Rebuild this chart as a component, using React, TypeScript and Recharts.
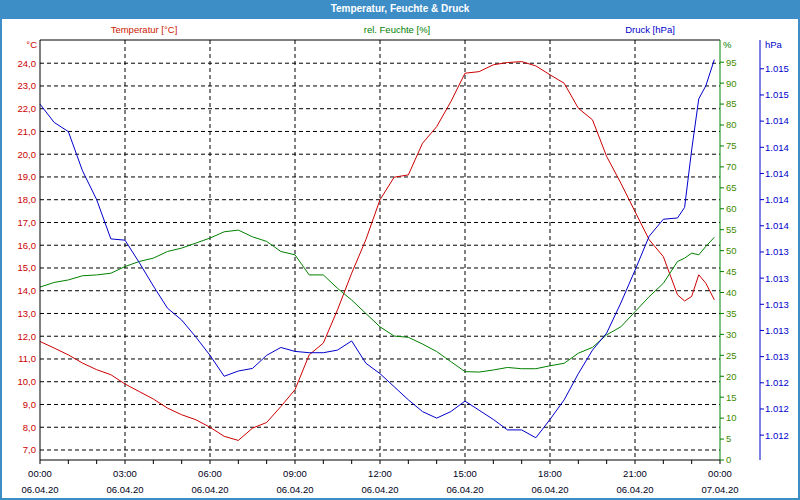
import React from 'react';
import { LineChart, Line, XAxis, YAxis, CartesianGrid, ReferenceLine } from 'recharts';

// time of day in hours (06.04.20 00:00 .. 07.04.20 00:00)
const hours = [
  0, 0.5, 1, 1.5, 2, 2.5, 3, 3.5, 4, 4.5, 5, 5.5, 6, 6.5, 7, 7.5, 8, 8.5, 9, 9.5,
  10, 10.5, 11, 11.5, 12, 12.5, 13, 13.5, 14, 14.5, 15, 15.5, 16, 16.5, 17, 17.5,
  18, 18.5, 19, 19.5, 20, 20.5, 21, 21.5, 22, 22.5, 22.75, 23, 23.25, 23.5, 23.8,
];

const temperature = [
  11.77, 11.48, 11.18, 10.82, 10.53, 10.31, 9.9, 9.57, 9.24, 8.84, 8.55, 8.33, 8.0, 7.6, 7.42, 7.96, 8.21, 8.91, 9.65, 11.18,
  11.7, 13.16, 14.77, 16.24, 18.0, 18.99, 19.09, 20.48, 21.21, 22.31, 23.56, 23.63, 23.93, 24.03, 24.07, 23.88,
  23.49, 23.12, 22.02, 21.51, 19.9, 18.73, 17.48, 16.24, 15.5, 13.82, 13.55, 13.75, 14.7, 14.33, 13.6,
];

const humidity = [
  41.3, 42.4, 43.0, 44.0, 44.2, 44.6, 46.2, 47.4, 48.2, 49.8, 50.6, 51.8, 53.0, 54.5, 54.9, 53.3, 52.2, 49.8, 49.0, 44.2,
  44.2, 41.0, 38.2, 35.0, 31.8, 29.6, 29.3, 27.7, 25.9, 23.5, 21.1, 21.0, 21.5, 22.1, 21.8, 21.8,
  22.5, 23.1, 25.5, 26.9, 29.9, 31.8, 35.4, 39.0, 42.2, 47.4, 48.2, 49.4, 49.0, 51.0, 53.2,
];

const pressure = [
  1014.53, 1014.39, 1014.32, 1014.02, 1013.8, 1013.5, 1013.49, 1013.32, 1013.14, 1012.97, 1012.88, 1012.75, 1012.61, 1012.45, 1012.49, 1012.51, 1012.61, 1012.67, 1012.64, 1012.63,
  1012.63, 1012.65, 1012.72, 1012.55, 1012.47, 1012.37, 1012.27, 1012.18, 1012.13, 1012.18, 1012.26, 1012.19, 1012.12, 1012.04, 1012.04, 1011.98,
  1012.12, 1012.27, 1012.47, 1012.65, 1012.78, 1013.01, 1013.26, 1013.52, 1013.65, 1013.66, 1013.74, 1014.18, 1014.57, 1014.67, 1014.87,
];

const hourTicks = [0, 1, 2, 3, 4, 5, 6, 7, 8, 9, 10, 11, 12, 13, 14, 15, 16, 17, 18, 19, 20, 21, 22, 23, 24];
const timeLabels = ['00:00', '03:00', '06:00', '09:00', '12:00', '15:00', '18:00', '21:00', '00:00'];
const dateLabels = ['06.04.20', '06.04.20', '06.04.20', '06.04.20', '06.04.20', '06.04.20', '06.04.20', '06.04.20', '07.04.20'];
const tempTicks = [7, 8, 9, 10, 11, 12, 13, 14, 15, 16, 17, 18, 19, 20, 21, 22, 23, 24];
const humTicks = [0, 5, 10, 15, 20, 25, 30, 35, 40, 45, 50, 55, 60, 65, 70, 75, 80, 85, 90, 95];
const pressTicks = [1012.0, 1012.2, 1012.4, 1012.6, 1012.8, 1013.0, 1013.2, 1013.4, 1013.6, 1013.8, 1014.0, 1014.2, 1014.4, 1014.6, 1014.8];

const data = hours.map((h, i) => ({
  h,
  temp: temperature[i],
  hum: humidity[i],
  press: pressure[i],
}));

const FONT = '"Liberation Sans", Arial, sans-serif';
const RED = '#cc0000';
const GREEN = '#008000';
const BLUE = '#0000cc';

function TimeTick(props: any) {
  const { x, y, payload } = props;
  const v = payload.value;
  if (v % 3 !== 0) return <g />;
  const i = v / 3;
  return (
    <g>
      <text x={x} y={y + 11} textAnchor="middle" fontSize={9.5} fontFamily={FONT} fill="#000022">{timeLabels[i]}</text>
      <text x={x} y={y + 27} textAnchor="middle" fontSize={9.5} fontFamily={FONT} fill="#000022">{dateLabels[i]}</text>
    </g>
  );
}

const label = (left: number, top: number, color: string, text: string, align: 'left' | 'center' | 'right' = 'left', width = 60) => (
  <div style={{
    position: 'absolute', left, top, width, textAlign: align, color,
    fontFamily: FONT, fontSize: 9.5, lineHeight: '12px', whiteSpace: 'nowrap',
  }}>{text}</div>
);

export default function App() {
  return (
    <div style={{ position: 'absolute', left: 0, top: 0, width: 800, height: 500, background: '#fff', overflow: 'hidden' }}>
      <LineChart width={800} height={500} data={data} margin={{ top: 40, right: 0, bottom: 0, left: 0 }}>
        <CartesianGrid yAxisId="temp" stroke="#000" strokeDasharray="4 3"
          verticalValues={[3, 6, 9, 12, 15, 18, 21]} horizontalValues={tempTicks} />
        <XAxis dataKey="h" type="number" domain={[0, 24]} ticks={hourTicks} interval={0}
          height={40} tickSize={4} tickMargin={2} stroke="#000" tick={<TimeTick />} />
        <YAxis yAxisId="temp" domain={[6.56, 25.02]} ticks={tempTicks} interval={0} width={40}
          tickSize={0} tickMargin={4} stroke="#000"
          tickFormatter={(v: number) => v.toFixed(1).replace('.', ',')}
          tick={{ fill: RED, fontSize: 9.5, fontFamily: FONT }} />
        <YAxis yAxisId="hum" orientation="right" domain={[0, 100.3]} ticks={humTicks} interval={0} width={40}
          tickSize={4} tickMargin={2} stroke={GREEN}
          tick={{ fill: '#3f8a00', fontSize: 9.5, fontFamily: FONT }} />
        <YAxis yAxisId="press" orientation="right" domain={[1011.81, 1015.02]} ticks={pressTicks} interval={0} width={40}
          tickSize={4} tickMargin={1} stroke={BLUE}
          tickFormatter={(v: number) => (Math.round(v) / 1000).toFixed(3)}
          tick={{ fill: BLUE, fontSize: 9.5, fontFamily: FONT }} />
        <ReferenceLine yAxisId="temp" y={25.02} stroke="#000" />
        <Line yAxisId="temp" dataKey="temp" stroke={RED} strokeWidth={1} dot={false} isAnimationActive={false} />
        <Line yAxisId="hum" dataKey="hum" stroke={GREEN} strokeWidth={1} dot={false} isAnimationActive={false} />
        <Line yAxisId="press" dataKey="press" stroke={BLUE} strokeWidth={1} dot={false} isAnimationActive={false} />
      </LineChart>

      <div style={{
        position: 'absolute', left: 0, top: 0, width: 800, height: 19, background: '#3d8ec7',
        color: '#fff', fontFamily: FONT, fontWeight: 'bold', fontSize: 10, lineHeight: '18px', textAlign: 'center',
      }}>Temperatur, Feuchte &amp; Druck</div>

      {label(84, 24, '#cc2200', 'Temperatur [°C]', 'center', 120)}
      {label(337, 24, GREEN, 'rel. Feuchte [%]', 'center', 120)}
      {label(590, 24, BLUE, 'Druck [hPa]', 'center', 120)}
      {label(0, 39, RED, '°C', 'right', 37)}
      {label(723, 39, GREEN, '%')}
      {label(765, 39, BLUE, 'hPa')}

      <div style={{
        position: 'absolute', left: 0, top: 0, width: 800, height: 500, boxSizing: 'border-box',
        border: '2px solid #3d8ec7', pointerEvents: 'none',
      }} />
    </div>
  );
}
